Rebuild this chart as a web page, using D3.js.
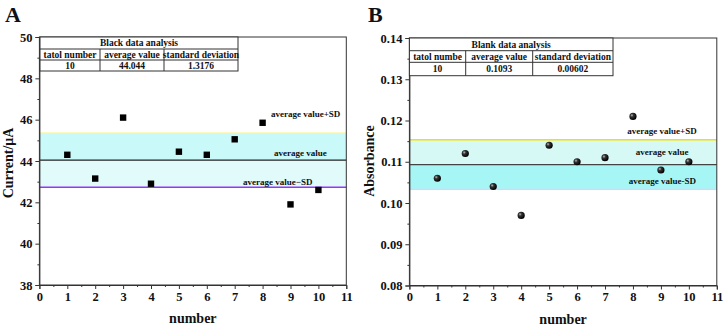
<!DOCTYPE html>
<html>
<head>
<meta charset="utf-8">
<script src="https://cdn.jsdelivr.net/npm/d3@7"></script>
<style>
  body { margin: 0; background: #fff; }
  svg text { font-family: "Liberation Serif", "Times New Roman", serif; font-weight: bold; fill: #111; }
</style>
</head>
<body>
<svg id="chart" width="726" height="331"></svg>
<script>
// data
var numbers = [1, 2, 3, 4, 5, 6, 7, 8, 9, 10];
var currentA = [44.3, 43.15, 46.1, 42.9, 44.45, 44.3, 45.05, 45.85, 41.9, 42.6];
var absorbB = [0.106, 0.112, 0.104, 0.097, 0.114, 0.110, 0.111, 0.121, 0.108, 0.110];
var avgA = 44.044, sdA = 1.3176;
var avgB = 0.1093, sdB = 0.00602;
var tableHeadA = ["tatol number", "average value", "standard deviation"];
var tableRowA = ["10", "44.044", "1.3176"];
var tableHeadB = ["tatol numbe", "average value", "standard deviation"];
var tableRowB = ["10", "0.1093", "0.00602"];
var yTicksA = [38, 40, 42, 44, 46, 48, 50];
var yTicksB = [0.08, 0.09, 0.10, 0.11, 0.12, 0.13, 0.14];
var xTicks = d3.range(0, 12);

var svg = d3.select("#chart");

function panel(o) {
  var g = svg.append("g");
  var x = d3.scaleLinear().domain([0, 11]).range([o.left, o.right]);
  var y = d3.scaleLinear().domain(o.ydom).range([o.bottom, o.top]);

  // bands
  g.append("rect").attr("x", x(0)).attr("width", x(11) - x(0))
    .attr("y", y(o.avg + o.sd)).attr("height", y(o.avg) - y(o.avg + o.sd))
    .attr("fill", o.upperFill);
  g.append("rect").attr("x", x(0)).attr("width", x(11) - x(0))
    .attr("y", y(o.avg)).attr("height", y(o.avg - o.sd) - y(o.avg))
    .attr("fill", o.lowerFill);

  // lines
  [[o.avg + o.sd, o.plusColor, o.plusW], [o.avg, o.avgColor, 1.2], [o.avg - o.sd, o.minusColor, o.minusW]].forEach(function(l) {
    g.append("line").attr("x1", x(0)).attr("x2", x(11))
      .attr("y1", y(l[0])).attr("y2", y(l[0]))
      .attr("stroke", l[1]).attr("stroke-width", l[2]);
  });

  // frame
  g.append("rect").attr("x", x(0)).attr("y", y.range()[1])
    .attr("width", x(11) - x(0)).attr("height", y.range()[0] - y.range()[1])
    .attr("fill", "none").attr("stroke", "#333").attr("stroke-width", 1);

  // x axis
  var xa = g.append("g").attr("transform", "translate(0," + o.bottom + ")")
    .call(d3.axisBottom(x).tickValues(xTicks).tickFormat(d3.format("d")).tickSize(4).tickPadding(3));
  xa.selectAll("text").style("font-size", "12.5px");
  g.append("g").attr("transform", "translate(0," + o.bottom + ")")
    .call(d3.axisBottom(x).tickValues(d3.range(0.5, 11, 1)).tickFormat("").tickSize(2))
    .select(".domain").remove();

  // y axis
  var ya = g.append("g").attr("transform", "translate(" + o.left + ",0)")
    .call(d3.axisLeft(y).tickValues(o.yticks).tickFormat(o.yfmt).tickSize(4).tickPadding(3));
  ya.selectAll("text").style("font-size", "12.5px");
  g.append("g").attr("transform", "translate(" + o.left + ",0)")
    .call(d3.axisLeft(y).tickValues(o.minor).tickFormat("").tickSize(2))
    .select(".domain").remove();
  g.selectAll(".domain, .tick line").attr("stroke", "#333");

  // table
  var t = o.table;
  var tg = g.append("g");
  tg.append("rect").attr("x", t.cols[0]).attr("y", t.rows[0])
    .attr("width", t.cols[3] - t.cols[0]).attr("height", t.rows[3] - t.rows[0])
    .attr("fill", "#fff").attr("stroke", "#333");
  [1, 2].forEach(function(r) {
    tg.append("line").attr("x1", t.cols[0]).attr("x2", t.cols[3])
      .attr("y1", t.rows[r]).attr("y2", t.rows[r]).attr("stroke", "#333");
  });
  [1, 2].forEach(function(c) {
    tg.append("line").attr("x1", t.cols[c]).attr("x2", t.cols[c])
      .attr("y1", t.rows[1]).attr("y2", t.rows[3]).attr("stroke", "#333");
  });
  tg.append("text").attr("x", (t.cols[0] + t.cols[3]) / 2).attr("y", (t.rows[0] + t.rows[1]) / 2 + 3.3)
    .attr("text-anchor", "middle").style("font-size", "9.5px").text(t.title);
  [t.head, t.row].forEach(function(vals, r) {
    vals.forEach(function(v, c) {
      tg.append("text").attr("x", (t.cols[c] + t.cols[c + 1]) / 2)
        .attr("y", (t.rows[r + 1] + t.rows[r + 2]) / 2 + 3.3)
        .attr("text-anchor", "middle").style("font-size", "9.5px").text(v);
    });
  });

  // points
  var pts = numbers.map(function(n, i) { return [n, o.values[i]]; });
  if (o.marker === "square") {
    g.selectAll(".pt").data(pts).enter().append("rect")
      .attr("x", function(d) { return x(d[0]) - 3.2; })
      .attr("y", function(d) { return y(d[1]) - 3.2; })
      .attr("width", 6.4).attr("height", 6.4).attr("fill", "#000");
  } else {
    g.selectAll(".pt").data(pts).enter().append("circle")
      .attr("cx", function(d) { return x(d[0]); })
      .attr("cy", function(d) { return y(d[1]); })
      .attr("r", 3.6).attr("fill", "url(#ball)");
  }

  // annotations
  o.labels.forEach(function(l) {
    g.append("text").attr("x", x(l.x)).attr("y", y(l.v) + l.dy)
      .attr("text-anchor", l.anchor).style("font-size", "9px").text(l.text);
  });

  // axis titles
  g.append("text").attr("x", (o.left + o.right) / 2).attr("y", o.bottom + 38)
    .attr("text-anchor", "middle").style("font-size", "14px").text("number");
  g.append("text").attr("transform", "translate(" + o.ylabX + "," + o.ylabY + ") rotate(-90)")
    .attr("text-anchor", "middle").style("font-size", "14px").text(o.ylabel);
  g.append("text").attr("x", o.letterX).attr("y", 22).style("font-size", "22px").text(o.letter);
}

var defs = svg.append("defs");
var grad = defs.append("radialGradient").attr("id", "ball").attr("cx", "35%").attr("cy", "35%").attr("r", "65%");
grad.append("stop").attr("offset", "0%").attr("stop-color", "#bbb");
grad.append("stop").attr("offset", "35%").attr("stop-color", "#333");
grad.append("stop").attr("offset", "100%").attr("stop-color", "#000");

panel({
  left: 39.4, right: 346.3, top: 37, bottom: 285,
  ydom: [38, 50], yticks: yTicksA, minor: [39, 41, 43, 45, 47, 49], yfmt: d3.format("d"),
  avg: avgA, sd: sdA, values: currentA, marker: "square",
  upperFill: "#c9f9f9", lowerFill: "#e1fbfb",
  plusColor: "#fff3a0", plusW: 1, avgColor: "#222", minusColor: "#9933ff", minusW: 1.6,
  table: { cols: [40, 100, 164, 238], rows: [37, 49, 60, 71], title: "Black data analysis", head: tableHeadA, row: tableRowA },
  labels: [
    { text: "average value+SD", x: 8.3, v: avgA + sdA, dy: -16, anchor: "start" },
    { text: "average value", x: 10.3, v: avgA, dy: -4, anchor: "end" },
    { text: "average value\u2212SD", x: 7.3, v: avgA - sdA, dy: -2.5, anchor: "start" }
  ],
  ylabel: "Current/\u03bcA", ylabX: 13, ylabY: 163, letter: "A", letterX: 5
});

panel({
  left: 409.4, right: 716.8, top: 38, bottom: 285.5,
  ydom: [0.08, 0.14], yticks: yTicksB, minor: [0.085, 0.095, 0.105, 0.115, 0.125, 0.135], yfmt: d3.format(".2f"),
  avg: avgB, sd: sdB, values: absorbB, marker: "ball",
  upperFill: "#d6f9f5", lowerFill: "#a6f6f6",
  plusColor: "#f2e200", plusW: 1.5, avgColor: "#444", minusColor: "#e6ccff", minusW: 1.2,
  table: { cols: [409.4, 465.7, 532.7, 613], rows: [38, 50.7, 62.3, 75.7], title: "Blank data analysis", head: tableHeadB, row: tableRowB },
  labels: [
    { text: "average value+SD", x: 7.8, v: avgB + sdB, dy: -6, anchor: "start" },
    { text: "average value", x: 9.04, v: avgB, dy: -9.5, anchor: "middle" },
    { text: "average value-SD", x: 7.85, v: avgB - sdB, dy: -5, anchor: "start" }
  ],
  ylabel: "Absorbance", ylabX: 374, ylabY: 161, letter: "B", letterX: 368
});
</script>
</body>
</html>
